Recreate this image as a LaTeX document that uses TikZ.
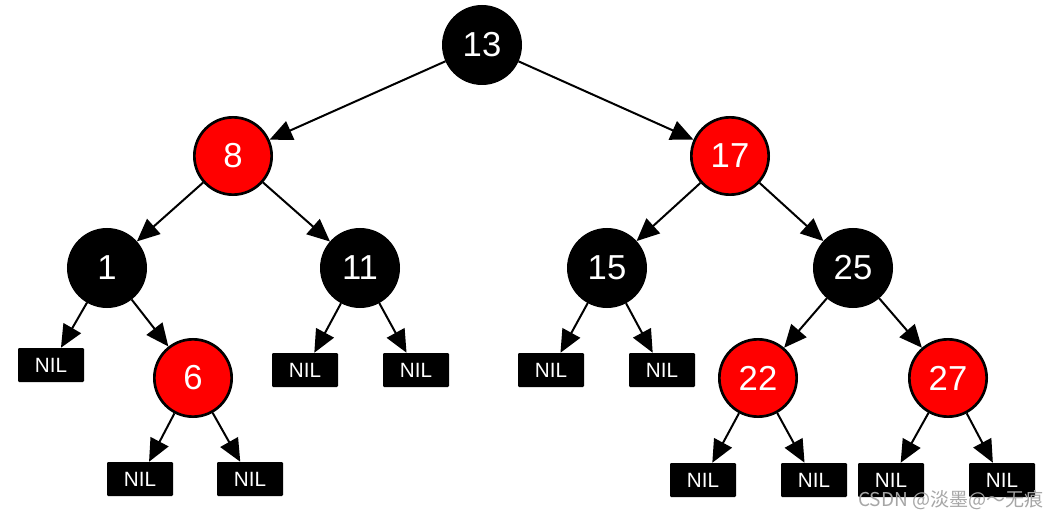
\documentclass[tikz,border=0pt]{standalone}
\usepackage{fontspec}
\setmainfont{Liberation Sans}
\newfontfamily\cjkfont{Noto Sans CJK SC}
\usetikzlibrary{arrows.meta}
\begin{document}
\begin{tikzpicture}[x=0.75pt,y=-0.75pt,
  rb/.style={circle,draw=black,line width=2pt,minimum size=58pt,inner sep=0pt,text=white,font=\fontsize{26}{27}\selectfont},
  blk/.style={rb,fill=black},
  red/.style={rb,fill=red},
  nil/.style={rectangle,fill=black,rounded corners=0.8pt,minimum width=49.5pt,minimum height=25.5pt,inner sep=0pt,text=white,font=\fontsize{15.5}{16}\selectfont},
  edge/.style={line width=1.5pt,-{Triangle[length=17pt,width=15pt]}}]
\useasboundingbox (0,0) rectangle (1060,520);
\node[blk] (n13) at (482,45) {13};
\node[red] (n8) at (233,156) {8};
\node[red] (n17) at (730,156) {17};
\node[blk] (n1) at (107,268) {1};
\node[blk] (n11) at (360,268) {11};
\node[blk] (n15) at (607,268) {15};
\node[blk] (n25) at (853,268) {25};
\node[red] (n6) at (193,378) {6};
\node[red] (n22) at (758,378) {22};
\node[red] (n27) at (948,378) {27};
\node[nil] (l1) at (51,365) {NIL};
\node[nil] (l6a) at (140,479) {NIL};
\node[nil] (l6b) at (250,479) {NIL};
\node[nil] (l11a) at (305,370) {NIL};
\node[nil] (l11b) at (416,370) {NIL};
\node[nil] (l15a) at (551,370) {NIL};
\node[nil] (l15b) at (662,370) {NIL};
\node[nil] (l22a) at (703,480) {NIL};
\node[nil] (l22b) at (814,480) {NIL};
\node[nil] (l27a) at (891,480) {NIL};
\node[nil] (l27b) at (1002,480) {NIL};
\draw[edge] (n13) -- (n8);
\draw[edge] (n13) -- (n17);
\draw[edge] (n8) -- (n1);
\draw[edge] (n8) -- (n11);
\draw[edge] (n17) -- (n15);
\draw[edge] (n17) -- (n25);
\draw[edge] (n1) -- (l1);
\draw[edge] (n1) -- (n6);
\draw[edge] (n6) -- (l6a);
\draw[edge] (n6) -- (l6b);
\draw[edge] (n11) -- (l11a);
\draw[edge] (n11) -- (l11b);
\draw[edge] (n15) -- (l15a);
\draw[edge] (n15) -- (l15b);
\draw[edge] (n25) -- (n22);
\draw[edge] (n25) -- (n27);
\draw[edge] (n22) -- (l22a);
\draw[edge] (n22) -- (l22b);
\draw[edge] (n27) -- (l27a);
\draw[edge] (n27) -- (l27b);
\node[anchor=east,text=gray!70,font=\cjkfont\fontsize{14.3}{15}\selectfont,inner sep=0pt] (wm) at (1044,500) {CSDN @淡墨@～无痕};
\end{tikzpicture}
\end{document}
